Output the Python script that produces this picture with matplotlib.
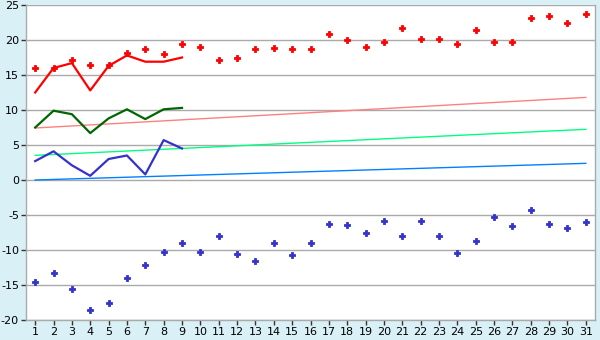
import matplotlib
matplotlib.use("Agg")
import matplotlib.pyplot as plt
import numpy as np

days = list(range(1, 32))
line_days = list(range(1, 10))

max_line = [12.5, 16.0, 16.7, 12.8, 16.3, 17.8, 16.9, 16.9, 17.5]
mean_line = [7.5, 9.9, 9.4, 6.7, 8.8, 10.1, 8.7, 10.1, 10.3]
min_line = [2.7, 4.1, 2.1, 0.6, 3.0, 3.5, 0.8, 5.7, 4.5]

max_points = [16.0, 16.0, 17.1, 16.4, 16.4, 18.2, 18.7, 18.0, 19.5, 19.0,
              17.1, 17.4, 18.7, 18.8, 18.7, 18.7, 20.8, 20.0, 19.0, 19.7,
              21.7, 20.2, 20.1, 19.5, 21.4, 19.7, 19.7, 23.1, 23.5, 22.5, 23.7]
min_points = [-14.6, -13.3, -15.6, -18.6, -17.6, -14.0, -12.2, -10.3, -9.05, -10.3,
              -8.05, -10.6, -11.6, -9.05, -10.75, -9.05, -6.33, -6.48, -7.62, -5.9,
              -8.05, -5.9, -8.05, -10.48, -8.76, -5.33, -6.62, -4.33, -6.33, -6.9, -6.05]

trend_days = [1, 31]
trend_max = [7.43, 11.8]
trend_mean = [3.52, 7.24]
trend_min = [0.0, 2.38]

y_ticks = [-20, -15, -10, -5, 0, 5, 10, 15, 20, 25]

bg = "#d9f0f7"
fig = plt.figure(figsize=(6, 3.4), dpi=100, facecolor=bg)
ax = fig.add_axes([26/600, 20/340, 569/600, 315/340])
ax.set_facecolor("white")

for y in y_ticks:
    ax.axhline(y, color="#aaaaaa", lw=1.0, zorder=1)

ax.plot(trend_days, trend_max, color="#ff8080", lw=1.0, zorder=2)
ax.plot(trend_days, trend_mean, color="#00ff80", lw=1.0, zorder=2)
ax.plot(trend_days, trend_min, color="#0080ff", lw=1.0, zorder=2)

ax.plot(line_days, max_line, color="#ff0000", lw=1.6, zorder=3)
ax.plot(line_days, mean_line, color="#006600", lw=1.6, zorder=3)
ax.plot(line_days, min_line, color="#3333cc", lw=1.6, zorder=3)

ax.plot(days, max_points, linestyle="none", marker="P", markersize=5,
        color="#ff0000", markeredgewidth=0.6, zorder=4)
ax.plot(days, min_points, linestyle="none", marker="P", markersize=5,
        color="#3333cc", markeredgewidth=0.6, zorder=4)

ax.set_xlim(0.5, 31.5)
ax.set_ylim(-20, 25)
ax.set_xticks(days)
ax.set_xticklabels([str(d) for d in days])
ax.set_yticks(y_ticks)
ax.set_yticklabels([str(y) for y in y_ticks])
ax.tick_params(axis="both", labelsize=8, color="#333333", length=3.5, width=1, pad=1.5)

for s in ["top", "right", "left", "bottom"]:
    ax.spines[s].set_color("#aaaaaa")
    ax.spines[s].set_linewidth(1.0)
ax.spines["top"].set_visible(False)

fig.savefig("out.png", dpi=100, facecolor=bg)
